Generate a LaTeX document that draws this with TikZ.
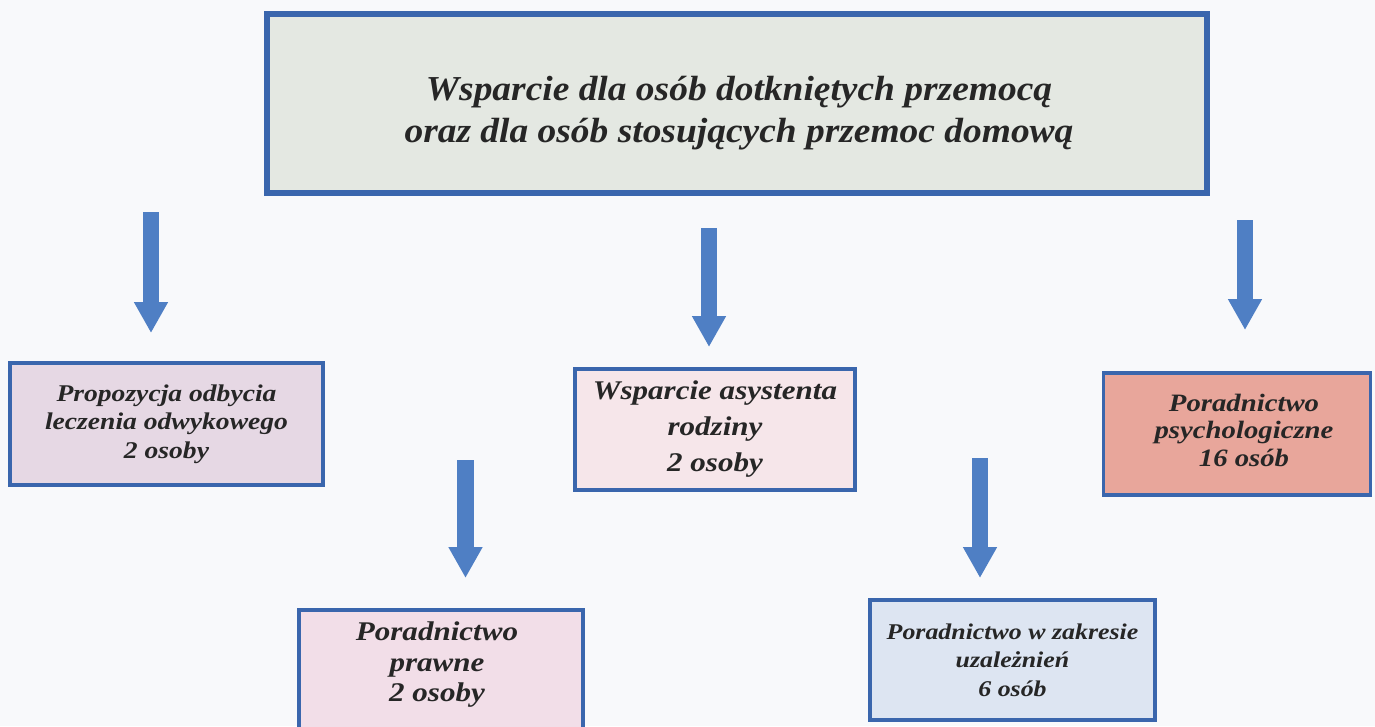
\documentclass[tikz,border=0pt]{standalone}
\usepackage{fontspec}
\setmainfont{Liberation Serif}
\newfontfamily\topfont[FakeStretch=1.07]{Liberation Serif}
\newfontfamily\boxfont[FakeStretch=1.15]{Liberation Serif}
\usetikzlibrary{arrows.meta}
\definecolor{bgcol}{HTML}{F8F9FB}
\definecolor{bordercol}{HTML}{3A66AD}
\definecolor{arrowcol}{HTML}{4F7FC4}
\definecolor{topfill}{HTML}{E4E8E2}
\definecolor{fillA}{HTML}{E6D8E4}
\definecolor{fillB}{HTML}{F6E6EA}
\definecolor{fillC}{HTML}{E8A69B}
\definecolor{fillD}{HTML}{F2DEE8}
\definecolor{fillE}{HTML}{DDE5F2}
\tikzset{
  box/.style={draw=bordercol, line width=3.5pt, rectangle, inner sep=0pt, align=center, text=black!85},
  blockarrow/.style={draw=arrowcol, line width=16.5pt, -{Triangle[width=32pt,length=31pt]}},
  boxtext/.style={align=center, text=black!85, inner sep=0pt}
}
\begin{document}
\begin{tikzpicture}[x=1pt,y=-1pt]
\useasboundingbox (0,0) rectangle (1375,726);
\fill[bgcol] (0,0) rectangle (1375,726);
\clip (0,0) rectangle (1375,726);
% top box
\node[box, line width=5.5pt, fill=topfill, minimum width=940pt, minimum height=179pt] (top) at (737,103.5) {};
\node[boxtext, font=\topfont\fontsize{35}{42}\selectfont\bfseries\itshape] (toptext) at (739,113)
  {Wsparcie dla osób dotkniętych przemocą\\ oraz dla osób stosujących przemoc domową};
% level 1 boxes
\node[box, fill=fillA, minimum width=313pt, minimum height=122pt,
  font=\boxfont\fontsize{24}{28.5}\selectfont\bfseries\itshape] (b1) at (166.5,424)
  {Propozycja odbycia\\ leczenia odwykowego\\ 2 osoby};
\node[box, fill=fillB, minimum width=280pt, minimum height=121pt,
  font=\boxfont\fontsize{27}{36}\selectfont\bfseries\itshape] (b2) at (715,429.5)
  {Wsparcie asystenta\\ rodziny\\ 2 osoby};
\node[box, fill=fillC, minimum width=267pt, minimum height=122pt] (b3) at (1237,434) {};
\node[boxtext, font=\boxfont\fontsize{25}{27.5}\selectfont\bfseries\itshape] (b3t) at (1244,430)
  {Poradnictwo\\ psychologiczne\\ 16 osób};
% level 2 boxes
\node[box, fill=fillD, minimum width=284pt, minimum height=150pt] (b4) at (441,685) {};
\node[boxtext, font=\boxfont\fontsize{27}{30.5}\selectfont\bfseries\itshape] (b4t) at (437,665)
  {Poradnictwo\\ prawne\\ 2 osoby};
\node[box, fill=fillE, minimum width=285pt, minimum height=120pt,
  font=\boxfont\fontsize{22.5}{28.5}\selectfont\bfseries\itshape] (b5) at (1012.5,660)
  {Poradnictwo w zakresie\\ uzależnień\\ 6 osób};
% arrows
\coordinate (a1s) at (151,212);  \coordinate (a1e) at (151,333);
\coordinate (a2s) at (709,228);  \coordinate (a2e) at (709,347);
\coordinate (a3s) at (1245,220); \coordinate (a3e) at (1245,330);
\coordinate (a4s) at (465.5,460); \coordinate (a4e) at (465.5,578);
\coordinate (a5s) at (980,458);  \coordinate (a5e) at (980,578);
\draw[blockarrow] (a1s) -- (a1e);
\draw[blockarrow] (a2s) -- (a2e);
\draw[blockarrow] (a3s) -- (a3e);
\draw[blockarrow] (a4s) -- (a4e);
\draw[blockarrow] (a5s) -- (a5e);
\end{tikzpicture}
\end{document}
